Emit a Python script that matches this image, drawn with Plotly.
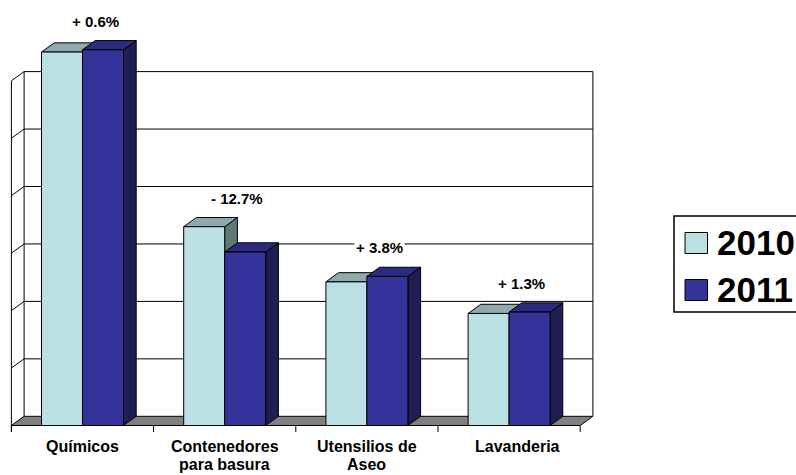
import plotly.graph_objects as go

# ---- data -------------------------------------------------------------
categories = ["Químicos", "Contenedores<br>para basura", "Utensilios de<br>Aseo", "Lavanderia"]
series_names = ["2010", "2011"]
sales_2010 = [6.50, 3.46, 2.50, 1.95]
sales_2011 = [6.54, 3.02, 2.595, 1.975]
change_labels = ["+ 0.6%", "- 12.7%", "+ 3.8%", "+ 1.3%"]
grid_max = 6

# ---- geometry of the pseudo-3D frame ---------------------------------
W, H = 796, 475
X0_PX, X_UNIT = 82.5, 142.2     # pixel of category 0 and pixels per category
Y0_PX, Y_UNIT = 425.5, 57.45    # pixel of value 0 and pixels per value unit
DX = 12.7 / X_UNIT              # depth offset (to the right)
DY = 9.2 / Y_UNIT               # depth offset (upwards)
BAR_W = 41 / X_UNIT
TICK = 6.5 / Y_UNIT
FONT = "Arial, Liberation Sans, sans-serif"

x_range = [-X0_PX / X_UNIT, (W - X0_PX) / X_UNIT]
y_range = [(Y0_PX - H) / Y_UNIT, Y0_PX / Y_UNIT]

face_colors = {
    "2010": dict(front="#BBE0E3", top="#8EAAAC", side="#5E7A78"),
    "2011": dict(front="#333399", top="#2A2A80", side="#1E1E52"),
}

fig = go.Figure()


def poly(pts, fill):
    xs = [p[0] for p in pts] + [pts[0][0]]
    ys = [p[1] for p in pts] + [pts[0][1]]
    fig.add_trace(go.Scatter(x=xs, y=ys, mode="lines", fill="toself", fillcolor=fill,
                             line=dict(color="black", width=1), hoverinfo="skip",
                             showlegend=False))


def segments(segs, color="black", width=1):
    xs, ys = [], []
    for (xa, ya), (xb, yb) in segs:
        xs += [xa, xb, None]
        ys += [ya, yb, None]
    fig.add_trace(go.Scatter(x=xs, y=ys, mode="lines", line=dict(color=color, width=width),
                             hoverinfo="skip", showlegend=False))


left, right = -0.5, len(categories) - 0.5

# back wall gridlines, left wall diagonals and frame edges
segs = []
for k in range(1, grid_max + 1):
    segs.append(((left + DX, k + DY), (right + DX, k + DY)))
    segs.append(((left, k), (left + DX, k + DY)))
segs.append(((left, -TICK), (left, grid_max)))
segs.append(((left + DX, DY), (left + DX, grid_max + DY)))
segs.append(((right + DX, DY), (right + DX, grid_max + DY)))
for b in range(len(categories) + 1):
    segs.append(((left + b, 0), (left + b, -TICK)))
segments(segs)

# floor
poly([(left, 0), (right, 0), (right + DX, DY), (left + DX, DY)], "#808080")

# columns: side, top then front face for each series
for i in range(len(categories)):
    for s, vals in zip(series_names, [sales_2010, sales_2011]):
        x0 = i - BAR_W if s == "2010" else i
        x1 = x0 + BAR_W
        h = vals[i]
        c = face_colors[s]
        poly([(x1, 0), (x1 + DX, DY), (x1 + DX, h + DY), (x1, h)], c["side"])
        poly([(x0, h), (x1, h), (x1 + DX, h + DY), (x0 + DX, h + DY)], c["top"])
        poly([(x0, 0), (x1, 0), (x1, h), (x0, h)], c["front"])

# change labels above each pair
for i, lab in enumerate(change_labels):
    top = max(sales_2010[i], sales_2011[i])
    fig.add_annotation(x=i + DX, y=top + DY + 19.5 / Y_UNIT, text=f"<b>{lab}</b>",
                       showarrow=False, bgcolor="white", borderpad=1,
                       font=dict(family=FONT, size=15, color="black"))

# category labels, one annotation per text line
for i, cat in enumerate(categories):
    for k, line in enumerate(cat.split("<br>")):
        fig.add_annotation(x=i, y=-(21 + 18 * k) / Y_UNIT, text=f"<b>{line}</b>",
                           showarrow=False, yanchor="middle",
                           xshift=8 if i == len(categories) - 1 else 0,
                           font=dict(family=FONT, size=16, color="black"))

# legend box
def px_x(p):
    return p / W


def px_y(p):
    return 1 - p / H


fig.add_shape(type="rect", xref="paper", yref="paper", x0=px_x(674), x1=px_x(810),
              y0=px_y(312), y1=px_y(216), line=dict(color="black", width=1.5),
              fillcolor="white")
for j, s in enumerate(series_names):
    yc = 243 + 47 * j
    fig.add_shape(type="rect", xref="paper", yref="paper", x0=px_x(685), x1=px_x(707.5),
                  y0=px_y(yc + 10.5), y1=px_y(yc - 10.5),
                  line=dict(color="black", width=1), fillcolor=face_colors[s]["front"])
    fig.add_annotation(xref="paper", yref="paper", x=px_x(715), y=px_y(yc - 1),
                       xanchor="left", yanchor="middle", text=f"<b>{s}</b>",
                       showarrow=False, font=dict(family=FONT, size=35, color="black"))

fig.update_layout(
    width=W, height=H, margin=dict(l=0, r=0, t=0, b=0),
    paper_bgcolor="white", plot_bgcolor="white", showlegend=False,
    xaxis=dict(range=x_range, visible=False, fixedrange=True),
    yaxis=dict(range=y_range, visible=False, fixedrange=True),
)

fig.write_html("out.html")
